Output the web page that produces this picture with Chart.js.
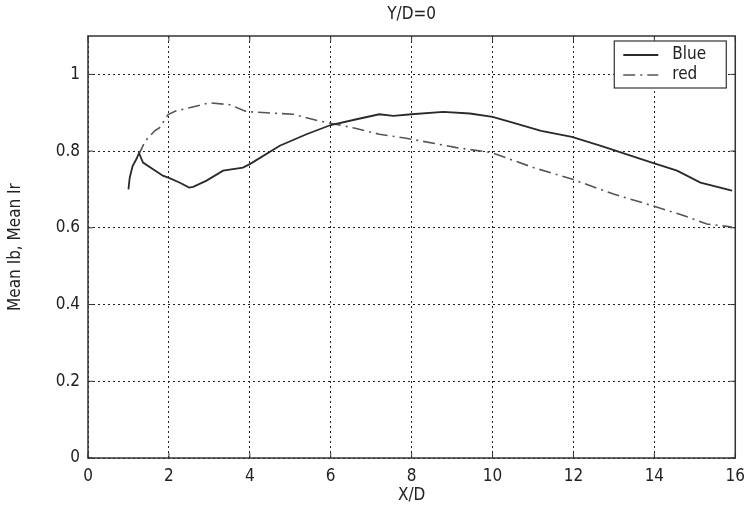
<!DOCTYPE html>
<html>
<head>
<meta charset="utf-8">
<script src="https://cdn.jsdelivr.net/npm/chart.js@4"></script>
<style>
  body { margin: 0; background: #fff; }
  #wrap { width: 745px; height: 507px; }
</style>
</head>
<body>
<div id="wrap"><canvas id="grafica"></canvas></div>
<script>
// values
const blueX = [1.0, 1.03, 1.1, 1.2, 1.26, 1.36, 1.85, 2.0, 2.26, 2.5, 2.6, 2.93, 3.34, 3.83, 4.0, 4.74, 5.4, 6.0, 6.64, 7.2, 7.55, 8.0, 8.78, 9.44, 10.0, 10.5, 11.2, 11.96, 12.66, 13.94, 14.56, 15.14, 15.92];
const blueY = [0.70, 0.73, 0.76, 0.78, 0.795, 0.77, 0.736, 0.73, 0.718, 0.705, 0.707, 0.723, 0.749, 0.757, 0.766, 0.814, 0.844, 0.868, 0.883, 0.896, 0.892, 0.896, 0.902, 0.898, 0.889, 0.874, 0.853, 0.837, 0.814, 0.770, 0.749, 0.718, 0.697];

const redX = [1.25, 1.42, 1.65, 1.77, 1.98, 2.18, 2.59, 3.0, 3.5, 3.92, 4.41, 5.07, 5.69, 6.55, 7.2, 7.83, 8.2, 9.11, 9.98, 11.01, 11.96, 12.99, 13.94, 14.72, 15.3, 15.92];
const redY = [0.79, 0.827, 0.853, 0.861, 0.895, 0.905, 0.915, 0.926, 0.921, 0.903, 0.900, 0.896, 0.879, 0.861, 0.844, 0.834, 0.827, 0.809, 0.796, 0.757, 0.727, 0.688, 0.658, 0.632, 0.610, 0.602];

const xTicks = [0, 2, 4, 6, 8, 10, 12, 14, 16];
const yTicks = [0, 0.2, 0.4, 0.6, 0.8, 1];

const FONT = "'DejaVu Sans Condensed', 'DejaVu Sans', sans-serif";
const INK = '#222';

const blue = {
    label: 'Blue',
    data: blueX.map((x, i) => ({x: x, y: blueY[i]})),
    borderColor: '#2a2a2a',
    borderWidth: 1.8,
    pointRadius: 0,
    fill: false,
    tension: 0
};

const red = {
    label: 'red',
    data: redX.map((x, i) => ({x: x, y: redY[i]})),
    borderColor: '#555',
    borderWidth: 1.6,
    borderDash: [12, 5, 2, 5],
    pointRadius: 0,
    fill: false,
    tension: 0
};

// frame, inward tick marks and the boxed legend like the matlab figure
const matlabBits = {
    id: 'matlabBits',
    afterDatasetsDraw(chart) {
        const ctx = chart.ctx;
        const a = chart.chartArea;
        const xs = chart.scales.x, ys = chart.scales.y;
        ctx.save();
        ctx.strokeStyle = '#333';
        ctx.lineWidth = 1.5;
        ctx.setLineDash([]);
        ctx.strokeRect(a.left, a.top, a.right - a.left, a.bottom - a.top);

        ctx.lineWidth = 1;
        ctx.beginPath();
        xTicks.forEach(v => {
            const px = xs.getPixelForValue(v);
            ctx.moveTo(px, a.bottom); ctx.lineTo(px, a.bottom - 5);
            ctx.moveTo(px, a.top); ctx.lineTo(px, a.top + 5);
        });
        yTicks.forEach(v => {
            const py = ys.getPixelForValue(v);
            ctx.moveTo(a.left, py); ctx.lineTo(a.left + 5, py);
            ctx.moveTo(a.right, py); ctx.lineTo(a.right - 5, py);
        });
        ctx.stroke();

        // legend box
        const bx = a.right - 121, by = a.top + 5, bw = 112, bh = 47;
        ctx.fillStyle = '#fff';
        ctx.fillRect(bx, by, bw, bh);
        ctx.strokeStyle = '#333';
        ctx.lineWidth = 1.2;
        ctx.strokeRect(bx, by, bw, bh);
        ctx.font = '17px ' + FONT;
        ctx.textBaseline = 'middle';
        ctx.textAlign = 'left';
        chart.data.datasets.forEach((ds, i) => {
            const ly = by + 14 + i * 20;
            ctx.strokeStyle = ds.borderColor;
            ctx.lineWidth = ds.borderWidth;
            ctx.setLineDash(ds.borderDash || []);
            ctx.beginPath();
            ctx.moveTo(bx + 9, ly);
            ctx.lineTo(bx + 44, ly);
            ctx.stroke();
            ctx.setLineDash([]);
            ctx.fillStyle = INK;
            ctx.fillText(ds.label, bx + 58, ly);
        });
        ctx.restore();
    }
};

const config = {
    type: 'line',
    data: { datasets: [blue, red] },
    options: {
        responsive: true,
        maintainAspectRatio: false,
        animation: false,
        layout: { padding: { top: 0, right: 2, bottom: 0, left: 0 } },
        plugins: {
            legend: { display: false },
            tooltip: { enabled: false },
            title: {
                display: true,
                text: 'Y/D=0',
                fullSize: false,
                color: INK,
                font: { family: FONT, size: 17, weight: 'normal' },
                padding: { top: 4, bottom: 11.6 }
            }
        },
        scales: {
            x: {
                type: 'linear',
                min: 0,
                max: 16,
                afterBuildTicks: s => { s.ticks = xTicks.map(v => ({value: v})); },
                afterFit: s => { s.height = 49; },
                ticks: { color: INK, padding: 0, font: { family: FONT, size: 17 } },
                grid: {
                    color: '#222', lineWidth: 1,
                    drawTicks: true, tickLength: 8, tickColor: 'rgba(0,0,0,0)'
                },
                border: { display: false, dash: [2, 3] },
                title: {
                    display: true, text: 'X/D', color: INK,
                    font: { family: FONT, size: 17 },
                    padding: { top: 2, bottom: 1 }
                }
            },
            y: {
                min: 0,
                max: 1.1,
                afterBuildTicks: s => { s.ticks = yTicks.map(v => ({value: v})); },
                afterFit: s => { s.width = 88; },
                ticks: {
                    color: INK, padding: 8, font: { family: FONT, size: 17 },
                    callback: v => String(+v.toFixed(1))
                },
                grid: { color: '#222', lineWidth: 1, drawTicks: false },
                border: { display: false, dash: [2, 3] },
                title: {
                    display: true, text: 'Mean Ib, Mean Ir', color: INK,
                    font: { family: FONT, size: 17 },
                    padding: { top: 5, bottom: 0 }
                }
            }
        }
    },
    plugins: [matlabBits]
};

new Chart(document.querySelector('#grafica'), config);
</script>
</body>
</html>
